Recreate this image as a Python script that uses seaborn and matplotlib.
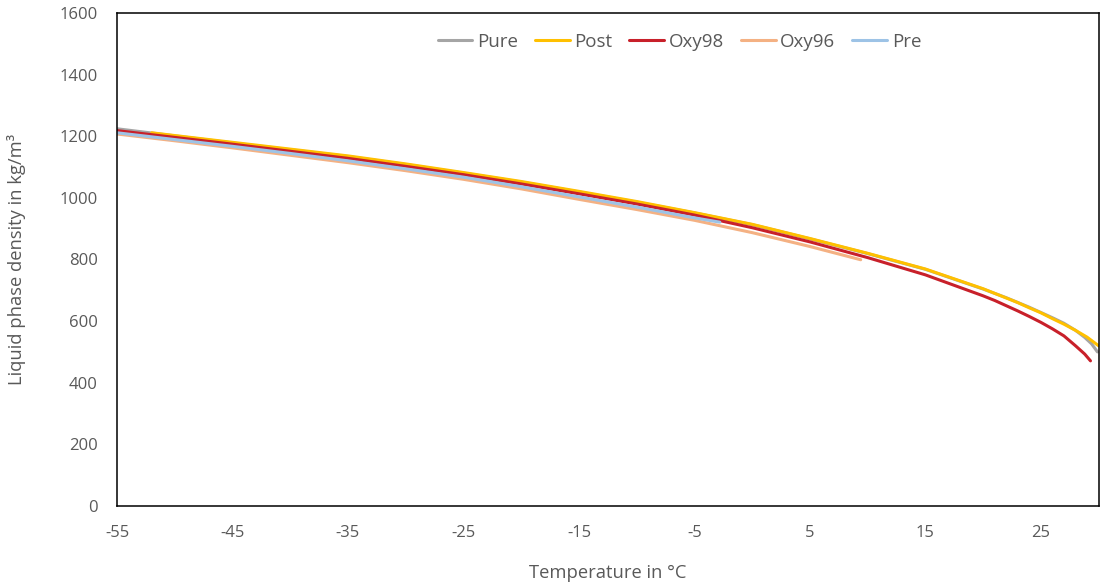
import numpy as np
import pandas as pd
import seaborn as sns
import matplotlib.pyplot as plt

# data
temp_pure = [-55, -50, -45, -40, -35, -30, -25, -20, -15, -10, -5, 0, 5, 10, 15, 20, 22, 24, 26, 27, 28, 28.8, 29.4, 29.9]
dens_pure = [1224, 1201, 1178, 1156, 1134, 1108, 1080, 1051, 1019, 986, 951, 913, 867, 819, 768, 704, 676, 645, 611, 593, 570, 547, 526, 500]

temp_post = [-52, -50, -45, -40, -35, -30, -25, -20, -15, -10, -5, 0, 5, 10, 15, 20, 21, 22, 23, 24, 25, 26, 27, 28, 29, 30]
dens_post = [1211, 1202, 1180, 1158, 1136, 1110, 1082, 1053, 1021, 988, 952, 914, 868, 820, 769, 705, 690, 675, 660, 643, 627, 608, 590, 570, 548, 520]

temp_oxy98 = [-55, -50, -45, -40, -35, -30, -25, -20, -15, -10, -5, 0, 5, 10, 15, 20, 21, 22, 23, 24, 25, 26, 27, 28, 28.8, 29.3]
dens_oxy98 = [1218, 1196, 1174, 1151, 1128, 1102, 1075, 1045, 1013, 980, 944, 903, 857, 806, 750, 682, 667, 650, 633, 615, 596, 575, 552, 520, 493, 471]

temp_oxy96 = [-55, -50, -45, -40, -35, -30, -25, -20, -15, -10, -5, 0, 5, 9.4]
dens_oxy96 = [1207, 1185, 1162, 1138, 1114, 1088, 1060, 1029, 995, 962, 927, 887, 842, 799]

temp_pre = [-55, -50, -45, -40, -35, -30, -25, -20, -15, -10, -5, -2.8]
dens_pre = [1211, 1189, 1167, 1144, 1120, 1094, 1067, 1036, 1003, 970, 935, 921]

names = ['Pure', 'Post', 'Oxy98', 'Oxy96', 'Pre']
colors = ['#A5A5A5', '#FFC000', '#C8202A', '#F4B183', '#9DC3E6']

frames = []
for n, t, d in zip(names,
                   [temp_pure, temp_post, temp_oxy98, temp_oxy96, temp_pre],
                   [dens_pure, dens_post, dens_oxy98, dens_oxy96, dens_pre]):
    frames.append(pd.DataFrame({'T': t, 'rho': d, 'series': n}))
df = pd.concat(frames, ignore_index=True)

sns.set_style('white')
plt.rcParams['font.family'] = ['Open Sans', 'DejaVu Sans']
plt.rcParams['axes.unicode_minus'] = False
txt = '#595959'

fig = plt.figure(figsize=(11.01, 5.85), dpi=100)
ax = fig.add_axes([0.1063, 0.135, 0.8915, 0.843])

sns.lineplot(data=df, x='T', y='rho', hue='series', hue_order=names,
             palette=colors, estimator=None, sort=False, linewidth=2.2, ax=ax)

ax.set_xlim(-55, 30)
ax.set_ylim(0, 1600)
ax.set_xticks(np.arange(-55, 30, 10))
ax.set_xticks(np.arange(-50, 30, 10), minor=True)
ax.set_yticks(np.arange(0, 1601, 200))
ax.set_yticks(np.arange(100, 1600, 200), minor=True)

for s in ax.spines.values():
    s.set_color('black')
    s.set_linewidth(1.1)
ax.tick_params(which='both', direction='in', length=4, width=1.1, color='black',
               labelsize=12, labelcolor=txt)
ax.tick_params(axis='x', which='major', pad=14)
ax.tick_params(axis='y', which='major', pad=14)

ax.set_xlabel('Temperature in °C', fontsize=13.2, color=txt, labelpad=16)
ax.set_ylabel('Liquid phase density in kg/m³', fontsize=13.2, color=txt, labelpad=24)

ax.legend(loc='center', bbox_to_anchor=(0.573, 0.941), ncol=5, frameon=False,
          fontsize=13.5, labelcolor=txt, handlelength=1.85, handletextpad=0.25,
          columnspacing=0.9)

fig.savefig('out.png', dpi=100)
